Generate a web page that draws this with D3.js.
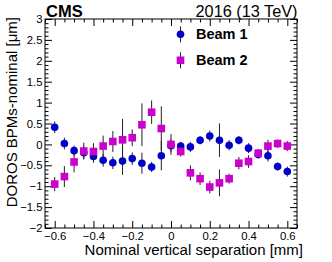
<!DOCTYPE html>
<html><head><meta charset="utf-8">
<script src="https://cdn.jsdelivr.net/npm/d3@7"></script>
<style>
html,body{margin:0;padding:0;background:#fff;}
svg{display:block;font-family:"Liberation Sans",Arial,Helvetica,sans-serif;}
.axis path{display:none;}
.axis line{stroke:#000;stroke-width:1;}
.axis text{font-size:11.3px;fill:#000;font-family:"Liberation Sans",Arial,sans-serif;}
</style></head>
<body>
<script>
// ---- data ----
const separation = [-0.6,-0.55,-0.5,-0.45,-0.4,-0.35,-0.3,-0.25,-0.2,-0.15,-0.1,-0.05,0,0.05,0.1,0.15,0.2,0.25,0.3,0.35,0.4,0.45,0.5,0.55,0.6];
const beam1 = [0.41,0.02,-0.15,-0.2,-0.29,-0.38,-0.44,-0.40,-0.34,-0.45,-0.54,-0.27,-0.03,-0.04,-0.06,0.10,0.20,0.10,-0.02,0.10,-0.09,-0.24,-0.27,-0.53,-0.65];
const beam1Err = [0.14,0.14,0.12,0.15,0.15,0.15,0.15,0.33,0.15,0.25,0.12,0.35,0.15,0.10,0.12,0.10,0.13,0.40,0.12,0.10,0.12,0.10,0.14,0.10,0.12];
const beam2 = [-0.95,-0.77,-0.42,-0.16,-0.17,-0.04,0.07,0.11,0.16,0.47,0.77,0.38,0.0,-0.17,-0.68,-0.82,-1.02,-0.92,-0.82,-0.45,-0.41,-0.21,-0.04,0.02,-0.04];
const beam2Err = [0.17,0.25,0.25,0.2,0.2,0.25,0.25,0.5,0.2,0.51,0.28,0.53,0.25,0.12,0.18,0.15,0.15,0.32,0.12,0.15,0.15,0.1,0.15,0.1,0.12];
const seriesNames = ["Beam 1","Beam 2"];
const xTicks = [-0.6,-0.4,-0.2,0,0.2,0.4,0.6];
const yTicks = [-2,-1.5,-1,-0.5,0,0.5,1,1.5,2,2.5,3];
const xTitle = "Nominal vertical separation [mm]";
const yTitle = "DOROS BPMs-nominal [μm]";
const leftLabel = "CMS";
const rightLabel = "2016 (13 TeV)";

// ---- layout ----
const W = 332, H = 262;
const L = 45, R = 297, T = 19, B = 228;
const svg = d3.select("body").append("svg").attr("width", W).attr("height", H);
const x = d3.scaleLinear().domain([-0.65, 0.65]).range([L, R]);
const y = d3.scaleLinear().domain([-2, 3]).range([B, T]);

const xMinor = d3.range(-13, 14).map(i => i * 0.05).filter(v => !xTicks.some(t => Math.abs(t - v) < 1e-9));
const yMinor = d3.range(-20, 31).map(i => i * 0.1).filter(v => !yTicks.some(t => Math.abs(t - v) < 1e-9));
const fmt = d3.format("");

const MAJ = 7, MIN = 3.5;
// bottom
svg.append("g").attr("class","axis").attr("transform",`translate(0,${B})`)
  .call(d3.axisBottom(x).tickValues(xTicks).tickSize(-MAJ).tickPadding(4).tickFormat(fmt));
svg.append("g").attr("class","axis").attr("transform",`translate(0,${B})`)
  .call(d3.axisBottom(x).tickValues(xMinor).tickSize(-MIN).tickFormat(""));
// top
svg.append("g").attr("class","axis").attr("transform",`translate(0,${T})`)
  .call(d3.axisTop(x).tickValues(xTicks).tickSize(-MAJ).tickFormat(""));
svg.append("g").attr("class","axis").attr("transform",`translate(0,${T})`)
  .call(d3.axisTop(x).tickValues(xMinor).tickSize(-MIN).tickFormat(""));
// left
svg.append("g").attr("class","axis").attr("transform",`translate(${L},0)`)
  .call(d3.axisLeft(y).tickValues(yTicks).tickSize(-MAJ).tickPadding(2.5).tickFormat(fmt));
svg.append("g").attr("class","axis").attr("transform",`translate(${L},0)`)
  .call(d3.axisLeft(y).tickValues(yMinor).tickSize(-MIN).tickFormat(""));
// right
svg.append("g").attr("class","axis").attr("transform",`translate(${R},0)`)
  .call(d3.axisRight(y).tickValues(yTicks).tickSize(-MAJ).tickFormat(""));
svg.append("g").attr("class","axis").attr("transform",`translate(${R},0)`)
  .call(d3.axisRight(y).tickValues(yMinor).tickSize(-MIN).tickFormat(""));

// frame
svg.append("rect").attr("x",L).attr("y",T).attr("width",R-L).attr("height",B-T)
  .attr("fill","none").attr("stroke","#000").attr("stroke-width",1);

// data series
const series = [
  {vals: beam1, err: beam1Err, color: "#0000cc", shape: "circle"},
  {vals: beam2, err: beam2Err, color: "#cc00cc", shape: "square"}
];
const MS = 7.6;
series.forEach(s => {
  const g = svg.append("g");
  g.selectAll("line").data(separation).join("line")
    .attr("x1", d => x(d)).attr("x2", d => x(d))
    .attr("y1", (d,i) => y(s.vals[i] + s.err[i]))
    .attr("y2", (d,i) => y(s.vals[i] - s.err[i]))
    .attr("stroke","#222").attr("stroke-width",1);
  if (s.shape === "circle") {
    g.selectAll("circle").data(separation).join("circle")
      .attr("cx", d => x(d)).attr("cy", (d,i) => y(s.vals[i]))
      .attr("r", MS/2).attr("fill", s.color);
  } else {
    g.selectAll("rect").data(separation).join("rect")
      .attr("x", d => x(d) - MS/2).attr("y", (d,i) => y(s.vals[i]) - MS/2)
      .attr("width", MS).attr("height", MS).attr("fill", s.color);
  }
});

// legend
const legY = [34.3, 60.3];
const legX = 180.5;
series.forEach((s, i) => {
  svg.append("line").attr("x1",legX).attr("x2",legX).attr("y1",legY[i]-8).attr("y2",legY[i]+8)
    .attr("stroke","#222").attr("stroke-width",1);
  if (s.shape === "circle") {
    svg.append("circle").attr("cx",legX).attr("cy",legY[i]).attr("r",MS/2).attr("fill",s.color);
  } else {
    svg.append("rect").attr("x",legX-MS/2).attr("y",legY[i]-MS/2).attr("width",MS).attr("height",MS).attr("fill",s.color);
  }
  svg.append("text").attr("x",196).attr("y",legY[i]+5).attr("font-size","14.5px").attr("font-weight","bold")
    .text(seriesNames[i]);
});

// labels
svg.append("text").attr("x",46).attr("y",16.5).attr("font-size","16.5px").attr("font-weight","bold").text(leftLabel);
svg.append("text").attr("x",297.5).attr("y",16.5).attr("text-anchor","end").attr("font-size","16.3px").text(rightLabel);
svg.append("text").attr("x",303).attr("y",255).attr("text-anchor","end").attr("font-size","15px").text(xTitle);
svg.append("text").attr("transform","translate(16.5,17) rotate(-90)").attr("text-anchor","end")
  .attr("font-size","15px").text(yTitle);
</script>
</body></html>
